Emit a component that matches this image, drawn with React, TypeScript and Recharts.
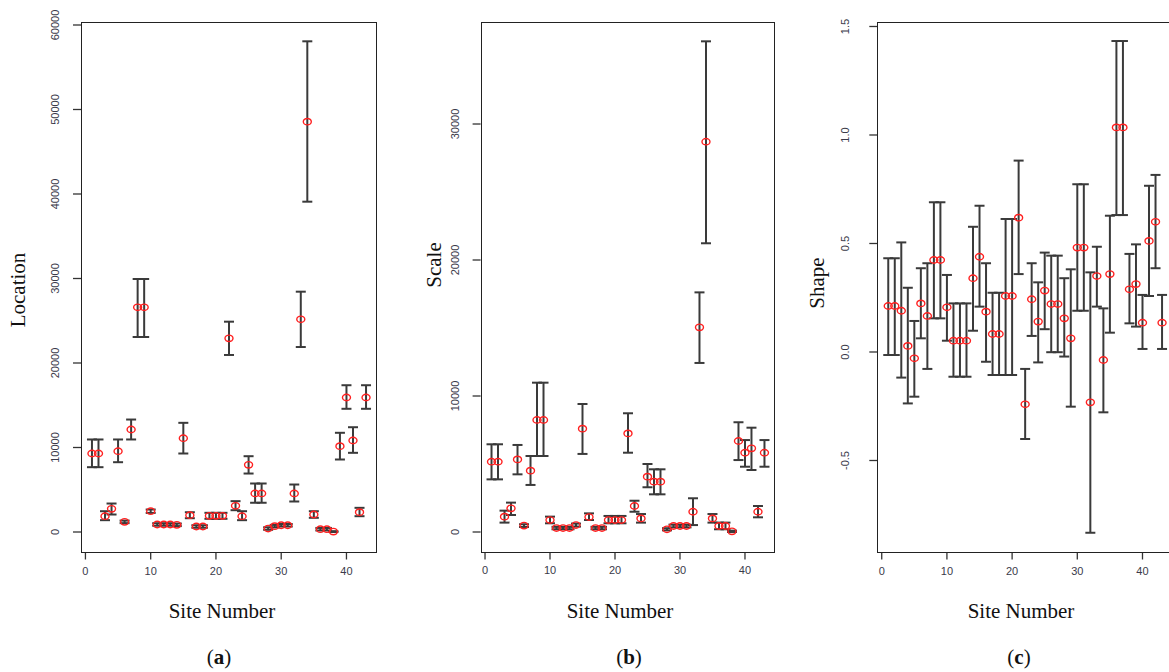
import React from 'react';
import { ScatterChart, Scatter, XAxis, YAxis, ErrorBar } from 'recharts';

const sites = [1, 2, 3, 4, 5, 6, 7, 8, 9, 10, 11, 12, 13, 14, 15, 16, 17, 18, 19, 20, 21, 22, 23, 24, 25, 26, 27, 28, 29, 30, 31, 32, 33, 34, 35, 36, 37, 38, 39, 40, 41, 42, 43];

const locationMid = [9290, 9290, 1870, 2740, 9560, 1200, 12130, 26590, 26590, 2460, 890, 890, 890, 850, 11100, 1990, 650, 650, 1910, 1910, 1910, 22920, 3100, 1870, 7950, 4560, 4560, 410, 690, 800, 800, 4560, 25170, 48560, 2070, 330, 330, 50, 10160, 15920, 10830, 2350, 15920];
const locationLow = [7670, 7670, 1400, 2070, 8260, 1050, 10950, 23080, 23080, 2260, 740, 740, 740, 700, 9290, 1630, 500, 500, 1560, 1560, 1560, 20950, 2580, 1400, 6920, 3460, 3460, 260, 540, 650, 650, 3610, 21890, 39090, 1680, 180, 180, 0, 8580, 14580, 9370, 1870, 14580];
const locationHigh = [10950, 10950, 2460, 3370, 10950, 1350, 13310, 29940, 29940, 2660, 1040, 1040, 1040, 1000, 12920, 2340, 800, 800, 2270, 2270, 2270, 24890, 3650, 2460, 8970, 5740, 5740, 560, 840, 950, 950, 5620, 28440, 58070, 2460, 480, 480, 100, 11740, 17370, 12400, 2860, 17370];

const scaleMid = [5170, 5170, 1130, 1740, 5340, 470, 4510, 8240, 8240, 880, 290, 290, 290, 510, 7600, 1100, 290, 290, 880, 880, 880, 7250, 1910, 1000, 4070, 3700, 3700, 200, 440, 440, 440, 1490, 15050, 28700, 1000, 440, 440, 50, 6690, 5830, 6150, 1490, 5830];
const scaleLow = [3870, 3870, 690, 1250, 4240, 370, 3460, 5590, 5590, 640, 200, 200, 200, 400, 5740, 880, 200, 200, 640, 640, 640, 5830, 1490, 690, 3290, 2770, 2770, 120, 340, 340, 340, 510, 12430, 21230, 690, 200, 200, 0, 5290, 4800, 4560, 1080, 4800];
const scaleHigh = [6450, 6450, 1570, 2160, 6400, 570, 5590, 10980, 10980, 1130, 380, 380, 380, 620, 9410, 1370, 380, 380, 1180, 1180, 1180, 8730, 2300, 1320, 5000, 4610, 4610, 280, 540, 540, 540, 2480, 17620, 36080, 1320, 690, 690, 100, 8070, 6760, 7670, 1910, 6760];

const shapeMid = [0.212, 0.212, 0.19, 0.028, -0.029, 0.224, 0.166, 0.424, 0.424, 0.206, 0.052, 0.052, 0.052, 0.34, 0.439, 0.186, 0.083, 0.083, 0.258, 0.258, 0.619, -0.241, 0.243, 0.14, 0.283, 0.221, 0.221, 0.155, 0.063, 0.481, 0.481, -0.232, 0.35, -0.037, 0.359, 1.035, 1.035, 0.289, 0.313, 0.135, 0.512, 0.6, 0.135];
const shapeLow = [-0.014, -0.014, -0.118, -0.237, -0.206, 0.063, -0.078, 0.155, 0.155, 0.052, -0.114, -0.114, -0.114, 0.098, 0.209, -0.045, -0.106, -0.106, -0.106, -0.106, 0.359, -0.401, 0.074, -0.048, 0.105, -0.001, -0.001, -0.021, -0.252, 0.19, 0.19, -0.833, 0.209, -0.278, 0.089, 0.631, 0.631, 0.132, 0.117, 0.014, 0.258, 0.386, 0.014];
const shapeHigh = [0.432, 0.432, 0.505, 0.296, 0.143, 0.386, 0.409, 0.69, 0.69, 0.355, 0.224, 0.224, 0.224, 0.577, 0.674, 0.409, 0.273, 0.273, 0.613, 0.613, 0.882, -0.078, 0.409, 0.321, 0.458, 0.444, 0.444, 0.34, 0.381, 0.773, 0.773, 0.367, 0.485, 0.201, 0.628, 1.433, 1.433, 0.452, 0.496, 0.263, 0.766, 0.816, 0.263];

const xTicks = [0, 10, 20, 30, 40];
const locationTicks = [0, 10000, 20000, 30000, 40000, 50000, 60000];
const scaleTicks = [0, 10000, 20000, 30000];
const shapeTicks = [-0.5, 0, 0.5, 1, 1.5];

const buildRows = (mid: number[], low: number[], high: number[]) =>
  sites.map((s, i) => ({ site: s, value: mid[i], err: [mid[i] - low[i], high[i] - mid[i]] }));

const PLOT_TOP = 21.5;
const PLOT_BOTTOM = 552.5;
const CHART_H = 600;
const TICK_FONT = '"Liberation Sans", Arial, sans-serif';
const TITLE_FONT = '"Liberation Serif", "DejaVu Serif", serif';

type PanelProps = {
  left: number;
  plotLeft: number;
  plotWidth: number;
  rows: any[];
  yDomain: [number, number];
  yTicks: number[];
  fmt: (v: number) => string;
  labelOffset: number;
};

const Panel = ({ left, plotLeft, plotWidth, rows, yDomain, yTicks, fmt, labelOffset }: PanelProps) => {
  const yAxisW = plotLeft - left;
  const width = yAxisW + plotWidth + 4;
  const XTick = (p: any) => (
    <text x={p.x} y={PLOT_BOTTOM + 22} textAnchor="middle" fontFamily={TICK_FONT} fontSize={11} fill="#3a3a4a">
      {p.payload.value}
    </text>
  );
  const YTick = (p: any) => {
    const x = yAxisW - labelOffset;
    return (
      <text x={x} y={p.y} transform={`rotate(-90, ${x}, ${p.y})`} textAnchor="middle" fontFamily={TICK_FONT} fontSize={11} fill="#3a3a4a">
        {fmt(p.payload.value)}
      </text>
    );
  };
  return (
    <div style={{ position: 'absolute', left, top: 0 }}>
      <ScatterChart width={width} height={CHART_H} margin={{ top: PLOT_TOP, right: 4, bottom: 0, left: 0 }}>
        <XAxis
          type="number"
          dataKey="site"
          domain={[-0.68, 44.68]}
          ticks={xTicks}
          allowDataOverflow
          axisLine={false}
          tickSize={7}
          tickLine={{ stroke: '#333', strokeWidth: 1.3 }}
          height={CHART_H - PLOT_BOTTOM}
          tick={XTick}
          interval={0}
        />
        <YAxis
          type="number"
          dataKey="value"
          domain={yDomain}
          ticks={yTicks}
          allowDataOverflow
          axisLine={false}
          tickSize={8}
          tickLine={{ stroke: '#333', strokeWidth: 1.3 }}
          width={yAxisW}
          tick={YTick}
          interval={0}
        />
        <Scatter
          data={rows}
          isAnimationActive={false}
          shape={(p: any) => (
            <ellipse cx={p.cx} cy={p.cy} rx={4} ry={3.2} fill="none" stroke="#ff2020" strokeWidth={1.4} />
          )}
        >
          <ErrorBar dataKey="err" direction="y" width={5} stroke="#3a3a3a" strokeWidth={2} isAnimationActive={false} />
        </Scatter>
      </ScatterChart>
      <div
        style={{
          position: 'absolute',
          left: yAxisW,
          top: PLOT_TOP,
          width: plotWidth,
          height: PLOT_BOTTOM - PLOT_TOP,
          border: '1.5px solid #222',
          boxSizing: 'border-box',
          pointerEvents: 'none',
        }}
      />
    </div>
  );
};

const locationRows = buildRows(locationMid, locationLow, locationHigh);
const scaleRows = buildRows(scaleMid, scaleLow, scaleHigh);
const shapeRows = buildRows(shapeMid, shapeLow, shapeHigh);

export default function App() {
  return (
    <div style={{ position: 'absolute', left: 0, top: 0, width: 1169, height: 672, overflow: 'hidden', background: '#fff' }}>
      <Panel left={0} plotLeft={81} plotWidth={296} rows={locationRows} yDomain={[-2426, 60414]} yTicks={locationTicks} fmt={(v) => String(v)} labelOffset={22} />
      <Panel left={400} plotLeft={480.6} plotWidth={294.8} rows={scaleRows} yDomain={[-1507, 37537]} yTicks={scaleTicks} fmt={(v) => String(v)} labelOffset={22} />
      <Panel left={800} plotLeft={877.3} plotWidth={295.7} rows={shapeRows} yDomain={[-0.924, 1.523]} yTicks={shapeTicks} fmt={(v) => v.toFixed(1)} labelOffset={28} />
      <svg width={1169} height={672} style={{ position: 'absolute', left: 0, top: 0, pointerEvents: 'none' }}>
        <g fontFamily={TITLE_FONT} fontSize={21} fill="#111">
          <text x={18} y={290} transform="rotate(-90, 18, 290)" textAnchor="middle" dominantBaseline="central">Location</text>
          <text x={434} y={265} transform="rotate(-90, 434, 265)" textAnchor="middle" dominantBaseline="central">Scale</text>
          <text x={817} y={283} transform="rotate(-90, 817, 283)" textAnchor="middle" dominantBaseline="central">Shape</text>
          <text x={222} y={611} textAnchor="middle" dominantBaseline="central">Site Number</text>
          <text x={620} y={611} textAnchor="middle" dominantBaseline="central">Site Number</text>
          <text x={1021} y={611} textAnchor="middle" dominantBaseline="central">Site Number</text>
        </g>
        <g fontFamily={TITLE_FONT} fontSize={21} fill="#111">
          <text x={219} y={657} textAnchor="middle" dominantBaseline="central">(<tspan fontWeight="bold">a</tspan>)</text>
          <text x={629} y={657} textAnchor="middle" dominantBaseline="central">(<tspan fontWeight="bold">b</tspan>)</text>
          <text x={1019} y={657} textAnchor="middle" dominantBaseline="central">(<tspan fontWeight="bold">c</tspan>)</text>
        </g>
      </svg>
    </div>
  );
}
